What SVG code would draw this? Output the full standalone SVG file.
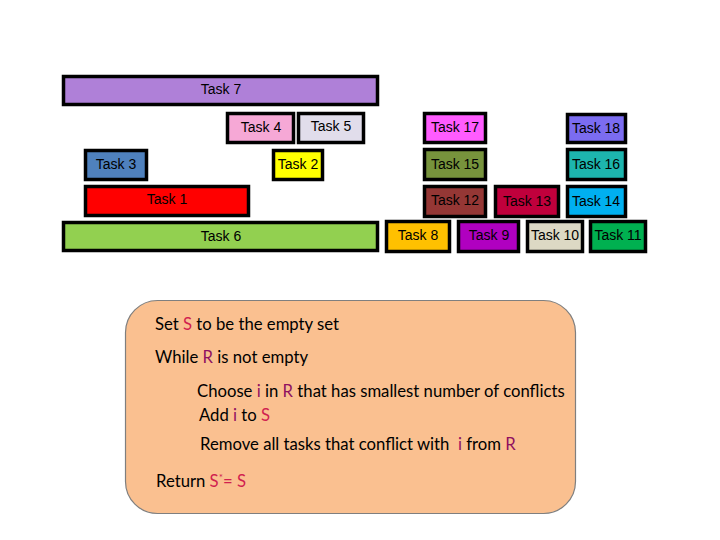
<svg xmlns="http://www.w3.org/2000/svg" width="720" height="540" viewBox="0 0 720 540">
<style>
.t rect{stroke:#000;stroke-width:3.5}
.t text{font-family:"Liberation Sans",Arial,sans-serif;font-size:14px;fill:#000;text-anchor:middle;dominant-baseline:central}
.a{font-family:Lato,"Open Sans",sans-serif;font-size:16.7px;fill:#000;white-space:pre}
.s{fill:#D0204F}
.r{fill:#901060}
</style>
<rect width="720" height="540" fill="#fff"/>
<g class="t">
<g id="task7"><rect x="63.5" y="76.5" width="314" height="28" fill="#AF80D8"/><text x="221" y="89">Task 7</text></g>
<g id="task4"><rect x="227.5" y="113.5" width="66" height="29" fill="#F6A8D6"/><text x="261" y="127">Task 4</text></g>
<g id="task5"><rect x="298.5" y="113.5" width="65" height="29" fill="#E1DDEB"/><text x="331" y="126">Task 5</text></g>
<g id="task3"><rect x="85.5" y="150.5" width="61" height="29" fill="#4F81BD"/><text x="116" y="164">Task 3</text></g>
<g id="task2"><rect x="273.5" y="150.5" width="49" height="29" fill="#FFFF00"/><text x="298" y="164">Task 2</text></g>
<g id="task1"><rect x="85.5" y="186.5" width="163" height="29" fill="#FF0000"/><text x="167" y="199">Task 1</text></g>
<g id="task6"><rect x="63.5" y="222.5" width="314" height="28" fill="#92D050"/><text x="221" y="236">Task 6</text></g>
<g id="task17"><rect x="424.5" y="113.5" width="61" height="29" fill="#FF5CFF"/><text x="455" y="127">Task 17</text></g>
<g id="task18"><rect x="567.5" y="114.5" width="58" height="28" fill="#7B6CF0"/><text x="596" y="128">Task 18</text></g>
<g id="task15"><rect x="424.5" y="149.5" width="61" height="30" fill="#77933C"/><text x="455" y="164">Task 15</text></g>
<g id="task16"><rect x="567.5" y="149.5" width="58" height="30" fill="#1DB5AE"/><text x="596" y="164">Task 16</text></g>
<g id="task12"><rect x="424.5" y="186.5" width="61" height="30" fill="#953735"/><text x="455" y="200">Task 12</text></g>
<g id="task13"><rect x="495.5" y="186.5" width="63" height="30" fill="#C0003C"/><text x="527" y="201">Task 13</text></g>
<g id="task14"><rect x="567.5" y="186.5" width="58" height="30" fill="#00B0F0"/><text x="596" y="201">Task 14</text></g>
<g id="task8"><rect x="386.5" y="221.5" width="63" height="30" fill="#FFC000"/><text x="418" y="235">Task 8</text></g>
<g id="task9"><rect x="458.5" y="221.5" width="60" height="30" fill="#B000C0"/><text x="489" y="235">Task 9</text></g>
<g id="task10"><rect x="527.5" y="221.5" width="55" height="30" fill="#DDD9C4"/><text x="555" y="235">Task 10</text></g>
<g id="task11"><rect x="590.5" y="221.5" width="55" height="30" fill="#00B050"/><text x="618" y="235">Task 11</text></g>
</g>
<g id="connectors"></g>
<g id="algorithm">
<rect x="125.5" y="300.5" width="450" height="213" rx="32" ry="32" fill="#FAC090" stroke="#7F7F7F" stroke-width="1.2"/>
<text class="a" x="155" y="330">Set <tspan class="s">S</tspan> to be the empty set</text>
<text class="a" x="155" y="363">While <tspan class="r">R</tspan> is not empty</text>
<text class="a" x="197" y="397">Choose <tspan class="r">i</tspan> in <tspan class="r">R</tspan> that has smallest number of conflicts</text>
<text class="a" x="199" y="421">Add <tspan class="r">i</tspan> to <tspan class="s">S</tspan></text>
<text class="a" x="200" y="450">Remove all tasks that conflict with  <tspan class="r">i</tspan> from <tspan class="r">R</tspan></text>
<text class="a" x="156" y="487">Return <tspan class="s">S<tspan dy="-6" font-size="10">*</tspan><tspan dy="6">= S</tspan></tspan></text>
</g>
</svg>
